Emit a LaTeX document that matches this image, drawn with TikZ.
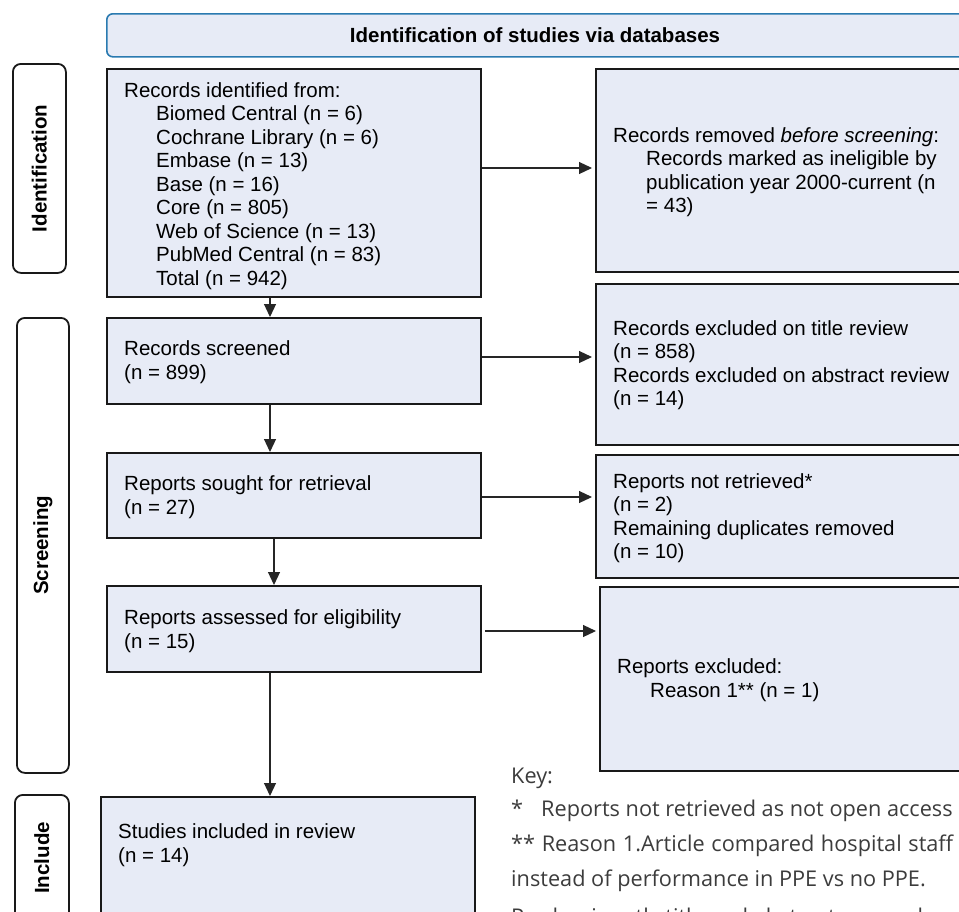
\documentclass[tikz,border=0pt]{standalone}
\usepackage{fontspec}
\setmainfont{Liberation Sans}
\newfontfamily\keyfont{Open Sans}
\usetikzlibrary{arrows.meta}
\definecolor{boxfill}{HTML}{E7EBF6}
\definecolor{headblue}{HTML}{2A7AB0}
\definecolor{keygray}{HTML}{3C3C3C}
\begin{document}
\begin{tikzpicture}[x=1pt,y=-1pt,
  box/.style={draw=black!90, line width=1.8pt, fill=boxfill, inner sep=0pt, anchor=north west},
  sidebox/.style={draw=black!90, line width=1.8pt, fill=white, rounded corners=8pt, inner sep=0pt, anchor=north west},
  headbox/.style={draw=headblue, line width=1.6pt, fill=boxfill, rounded corners=6pt, inner sep=0pt, anchor=north west},
  txt/.style={anchor=west, align=left, inner sep=0pt, font=\fontsize{20.5}{23.5}\selectfont},
  sidetxt/.style={rotate=90, inner sep=0pt, font=\fontsize{20.5}{23.5}\selectfont\bfseries},
  keytxt/.style={anchor=west, inner sep=0pt, text=keygray, font=\keyfont\fontsize{21.7}{26}\selectfont},
  arr/.style={draw=black!85, line width=1.2pt, -{Triangle[length=13pt,width=12pt]}}]
\useasboundingbox (0,0) rectangle (959,911);
\clip (0,0) rectangle (959,911);

% header
\node[headbox, minimum width=860pt, minimum height=43pt] (head) at (106,13) {};
\node[inner sep=0pt, font=\fontsize{20.5}{23.5}\selectfont\bfseries] (headT) at (535,35) {Identification of studies via databases};

% side labels
\node[sidebox, minimum width=53pt, minimum height=209pt] (sideId) at (12,63) {};
\node[sidetxt] (sideIdT) at (sideId.center) {Identification};
\node[sidebox, minimum width=52pt, minimum height=455pt] (sideScr) at (16,317) {};
\node[sidetxt] (sideScrT) at (sideScr.center) {Screening};
\node[sidebox, minimum width=54pt, minimum height=126pt] (sideInc) at (14,794) {};
\node[sidetxt] (sideIncT) at (sideInc.center) {Include};

% left column
\node[box, minimum width=374pt, minimum height=228pt] (ident) at (106,68) {};
\node[txt] (identT) at (124,186) {Records identified from:\\
\hspace*{32pt}Biomed Central (n = 6)\\
\hspace*{32pt}Cochrane Library (n = 6)\\
\hspace*{32pt}Embase (n = 13)\\
\hspace*{32pt}Base (n = 16)\\
\hspace*{32pt}Core (n = 805)\\
\hspace*{32pt}Web of Science (n = 13)\\
\hspace*{32pt}PubMed Central (n = 83)\\
\hspace*{32pt}Total (n = 942)};

\node[box, minimum width=374pt, minimum height=86pt] (screened) at (106,317) {};
\node[txt] (screenedT) at (124,362) {Records screened\\(n = 899)};

\node[box, minimum width=374pt, minimum height=85pt] (sought) at (106,452) {};
\node[txt] (soughtT) at (124,497) {Reports sought for retrieval\\(n = 27)};

\node[box, minimum width=374pt, minimum height=86pt] (assessed) at (106,585) {};
\node[txt] (assessedT) at (124,631) {Reports assessed for eligibility\\(n = 15)};

\node[box, minimum width=374pt, minimum height=140pt] (included) at (100,796) {};
\node[txt] (includedT) at (118,845) {Studies included in review\\(n = 14)};

% right column
\node[box, minimum width=380pt, minimum height=203pt] (removed) at (595,68) {};
\node[txt] (removedT) at (613,172) {Records removed \textit{before screening}:\\
\hspace*{33pt}Records marked as ineligible by\\
\hspace*{33pt}publication year 2000-current (n\\
\hspace*{33pt}= 43)};

\node[box, minimum width=380pt, minimum height=161pt] (excluded) at (595,283) {};
\node[txt] (excludedT) at (613,365) {Records excluded on title review\\(n = 858)\\Records excluded on abstract review\\(n = 14)};

\node[box, minimum width=380pt, minimum height=123pt] (notret) at (595,454) {};
\node[txt] (notretT) at (613,518) {Reports not retrieved*\\(n = 2)\\Remaining duplicates removed\\(n = 10)};

\node[box, minimum width=380pt, minimum height=184pt] (repexcl) at (599,586) {};
\node[txt] (repexclT) at (617,680) {Reports excluded:\\\hspace*{33pt}Reason 1** (n = 1)};

% connectors
\coordinate (xa) at (270,0);
\coordinate (xb) at (274,0);
\draw[arr] (ident.south -| xa) -- (screened.north -| xa);
\draw[arr] (screened.south -| xa) -- (sought.north -| xa);
\draw[arr] (sought.south -| xb) -- (assessed.north -| xb);
\draw[arr] (assessed.south -| xa) -- (included.north -| xa);

\coordinate (ya) at (0,168);
\coordinate (yb) at (0,357);
\coordinate (yc) at (0,497);
\coordinate (yd) at (0,631);
\draw[arr, shorten >=3pt] (ident.east |- ya) -- (removed.west |- ya);
\draw[arr, shorten >=3pt] (screened.east |- yb) -- (excluded.west |- yb);
\draw[arr, shorten >=3pt] (sought.east |- yc) -- (notret.west |- yc);
\draw[arr, shorten >=3pt, shorten <=3pt] (assessed.east |- yd) -- (repexcl.west |- yd);

% key
\node[keytxt] (key1) at (511,778) {Key:};
\node[keytxt] (key2) at (511,811) {\makebox[30pt][l]{*}Reports not retrieved as not open access};
\node[keytxt] (key3) at (511,846) {\makebox[442pt][s]{** Reason 1.Article compared hospital staff}};
\node[keytxt] (key4) at (511,881) {instead of performance in PPE vs no PPE.};
\node[keytxt] (key5) at (511,919) {Predominantly title and abstract removals were};
\end{tikzpicture}
\end{document}
